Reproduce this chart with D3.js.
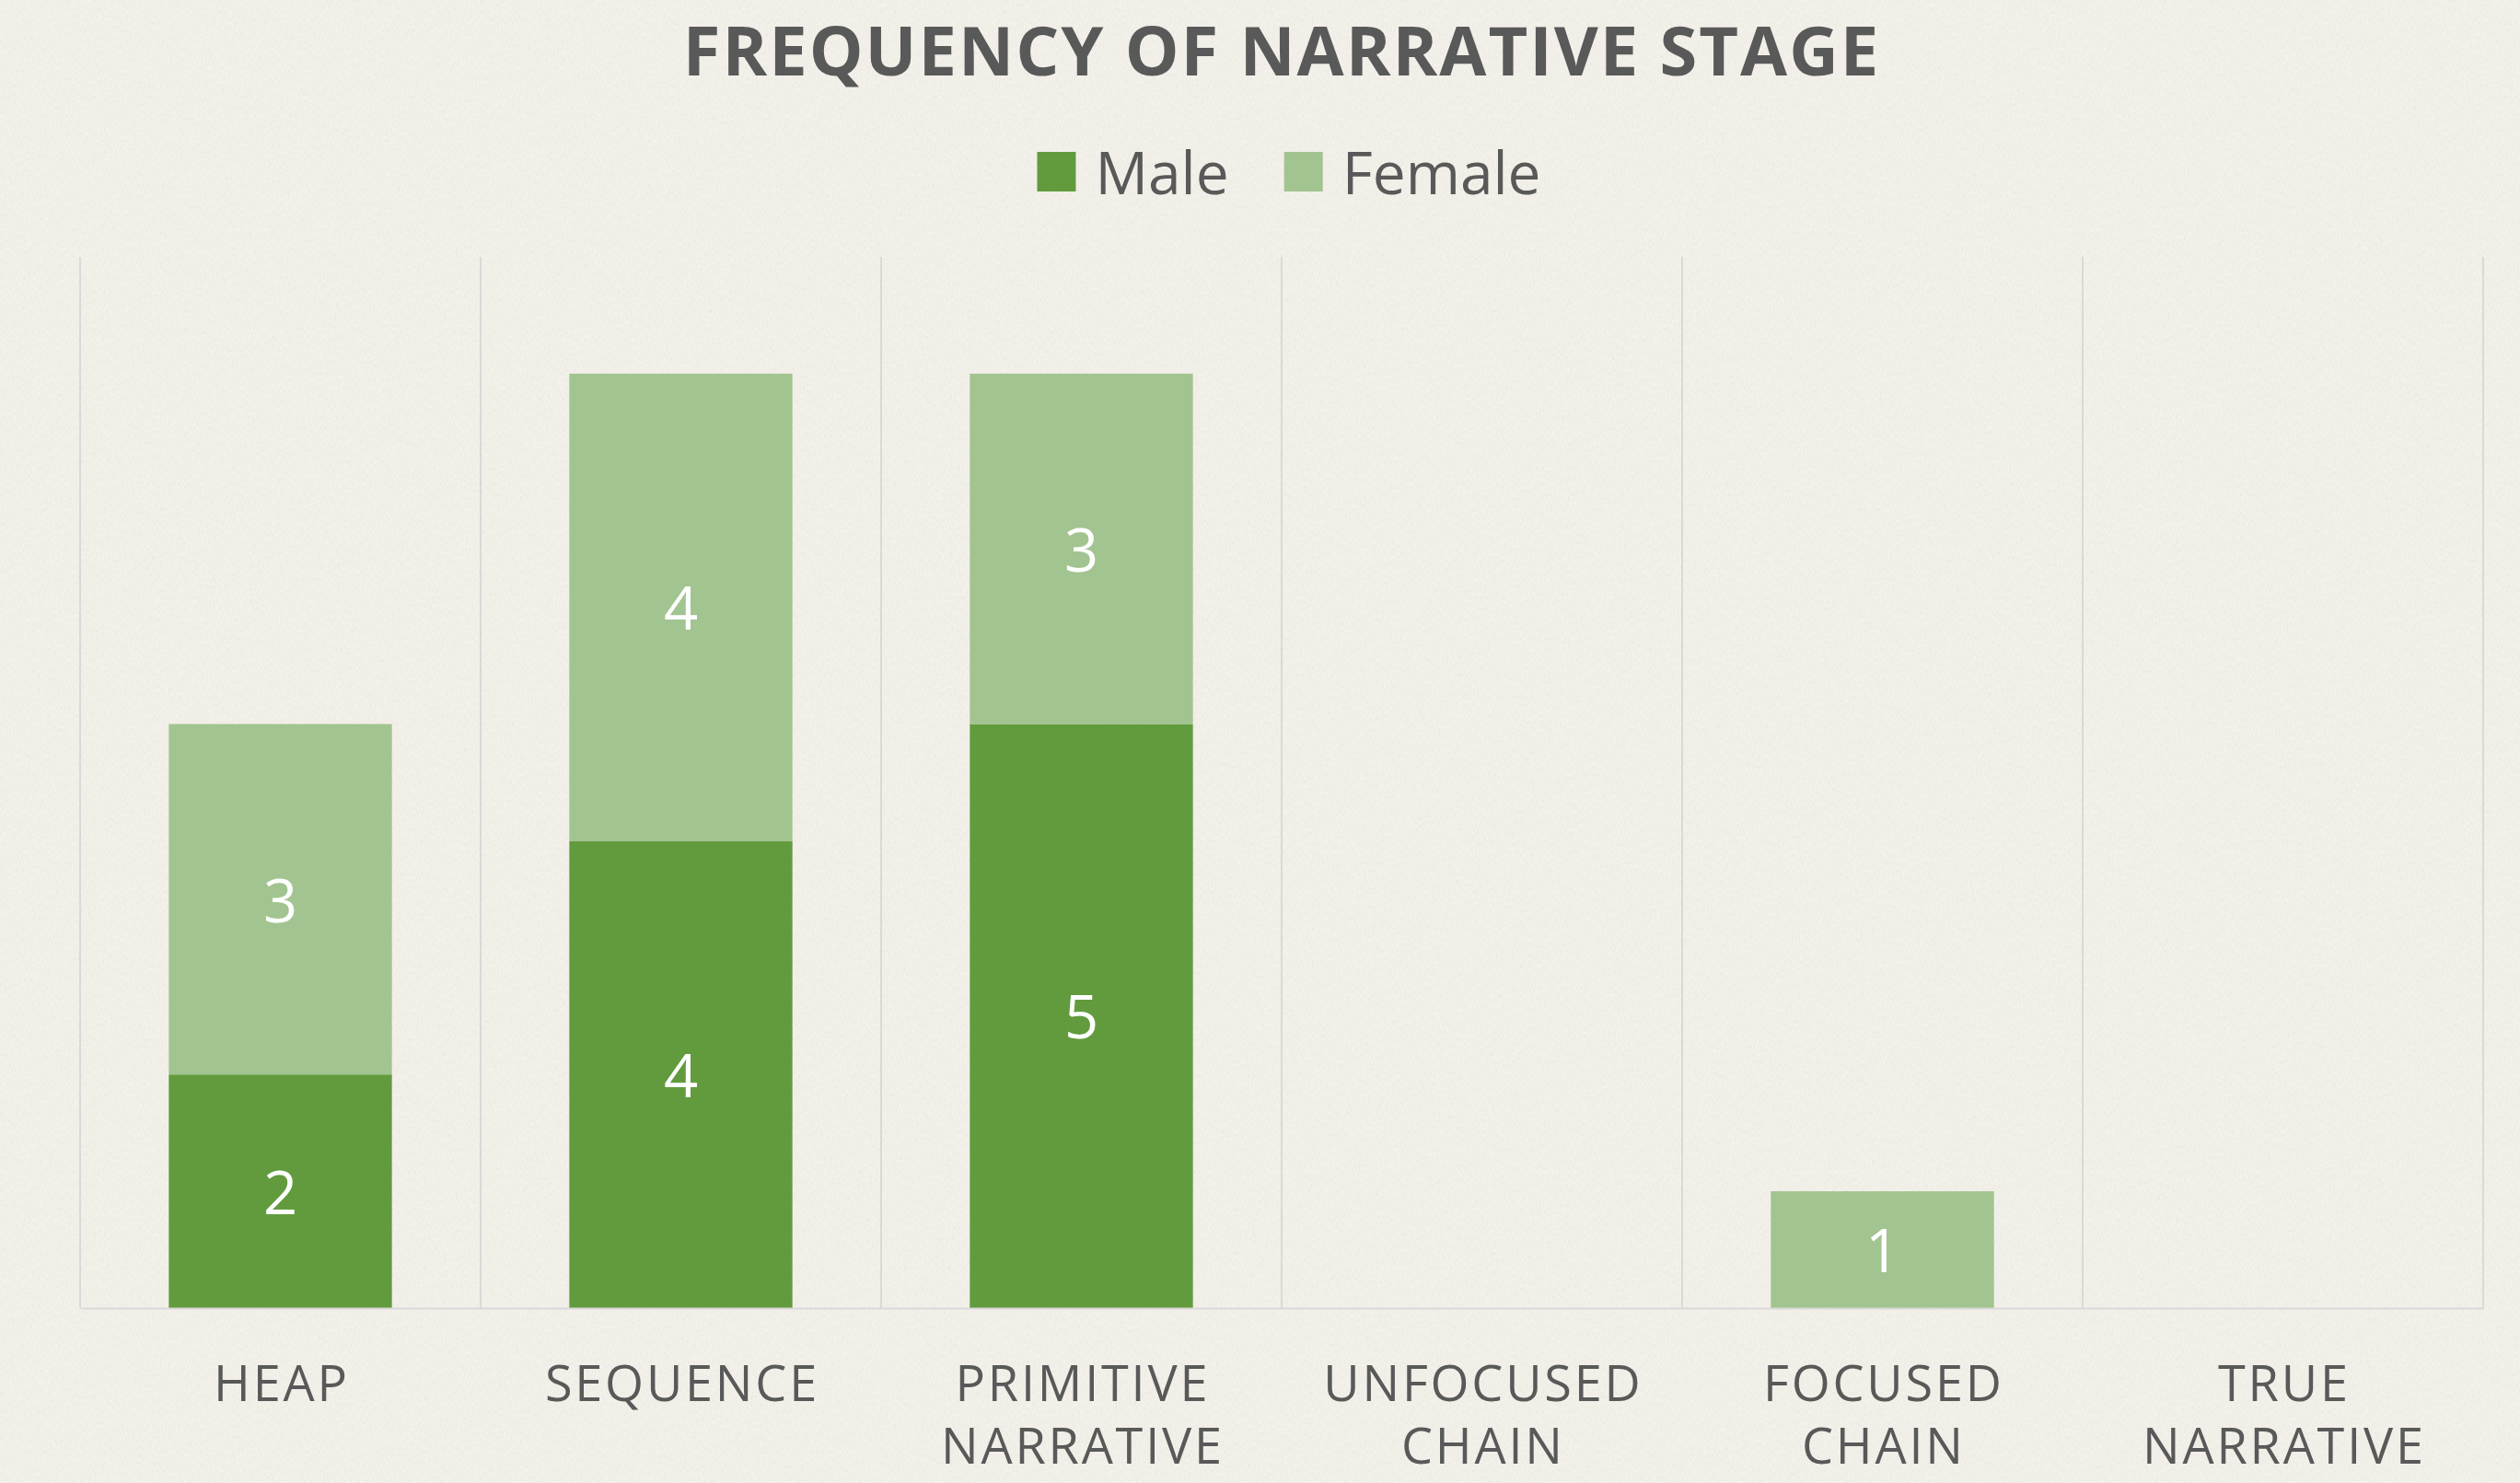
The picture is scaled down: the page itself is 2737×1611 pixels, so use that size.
<!DOCTYPE html>
<html>
<head>
<meta charset="utf-8">
<script src="https://cdn.jsdelivr.net/npm/d3@7"></script>
<style>
  html, body { margin: 0; padding: 0; background: #f3f1ea; }
  svg { display: block; }
</style>
</head>
<body>
<script>
// ---- Data ----
const categories = ["HEAP", "SEQUENCE", "PRIMITIVE NARRATIVE", "UNFOCUSED CHAIN", "FOCUSED CHAIN", "TRUE NARRATIVE"];
const seriesNames = ["Male", "Female"];
const maleValues = [2, 4, 5, 0, 0, 0];
const femaleValues = [3, 4, 3, 0, 1, 0];
const yDomainMax = 9;
const titleText = "FREQUENCY OF NARRATIVE STAGE";

// ---- Layout / style ----
const W = 2737, H = 1611;
const margin = { left: 87, right: W - 2697, top: 279, bottom: H - 1421 };
const colors = { Male: "#629b3d", Female: "#a2c490" };
const textColor = "#595959";
const gridColor = "#d9d9d9";
const fontFamily = "'Open Sans', 'Noto Sans', sans-serif";

const svg = d3.select("body").append("svg").attr("width", W).attr("height", H);

// background texture
const defs = svg.append("defs");
const filt = defs.append("filter").attr("id", "canvas").attr("x", 0).attr("y", 0).attr("width", "100%").attr("height", "100%");
filt.append("feTurbulence").attr("type", "fractalNoise").attr("baseFrequency", "0.9 0.25").attr("numOctaves", 2).attr("seed", 3).attr("result", "n");
filt.append("feColorMatrix").attr("in", "n").attr("type", "matrix")
  .attr("values", "0 0 0 0 0.45  0 0 0 0 0.43  0 0 0 0 0.38  0 0 0 -1.2 0.75");
svg.append("rect").attr("width", W).attr("height", H).attr("fill", "#f3f1ea");
svg.append("rect").attr("width", W).attr("height", H).attr("filter", "url(#canvas)").attr("opacity", 0.22);

const x = d3.scaleBand().domain(categories).range([margin.left, W - margin.right]).paddingInner(0).paddingOuter(0);
const y = d3.scaleLinear().domain([0, yDomainMax]).range([H - margin.bottom, margin.top]);

// vertical gridlines at category boundaries
const edges = categories.map(c => x(c)).concat([x(categories[categories.length - 1]) + x.bandwidth()]);
svg.append("g").selectAll("line").data(edges).join("line")
  .attr("x1", d => d).attr("x2", d => d)
  .attr("y1", y(yDomainMax)).attr("y2", y(0))
  .attr("stroke", gridColor).attr("stroke-width", 2);

// stacked data
const rows = categories.map((c, i) => ({ cat: c, Male: maleValues[i], Female: femaleValues[i] }));
const stack = d3.stack().keys(seriesNames)(rows);
const barW = x.bandwidth() * 0.557;

const layers = svg.append("g").selectAll("g").data(stack).join("g").attr("fill", d => colors[d.key]);
layers.selectAll("rect").data(d => d.filter(s => s[1] - s[0] > 0)).join("rect")
  .attr("x", d => x(d.data.cat) + (x.bandwidth() - barW) / 2)
  .attr("width", barW)
  .attr("y", d => y(d[1]))
  .attr("height", d => y(d[0]) - y(d[1]));

// data labels
const labelG = svg.append("g");
stack.forEach(layer => {
  layer.forEach(s => {
    const v = s[1] - s[0];
    if (v > 0) {
      labelG.append("text")
        .attr("x", x(s.data.cat) + x.bandwidth() / 2)
        .attr("y", (y(s[0]) + y(s[1])) / 2)
        .attr("dy", "0.38em")
        .attr("text-anchor", "middle")
        .attr("font-family", fontFamily)
        .attr("font-size", 65)
        .attr("fill", "#ffffff")
        .text(v);
    }
  });
});

// bottom axis
const xAxis = d3.axisBottom(x).tickSize(0).tickPadding(0).tickFormat("");
const axG = svg.append("g").attr("transform", `translate(0,${y(0)})`).call(xAxis);
axG.select(".domain").attr("stroke", gridColor).attr("stroke-width", 2);
axG.selectAll(".tick").each(function(d) {
  const words = d.split(" ");
  const t = d3.select(this).append("text")
    .attr("text-anchor", "middle")
    .attr("font-family", fontFamily)
    .attr("font-size", 54)
    .attr("letter-spacing", 2.8)
    .attr("fill", textColor);
  words.forEach((w, i) => {
    t.append("tspan").attr("x", 1.4).attr("y", 101 + i * 68).text(w);
  });
});

// title
svg.append("text")
  .attr("x", (margin.left + W - margin.right) / 2)
  .attr("y", 82)
  .attr("text-anchor", "middle")
  .attr("font-family", fontFamily)
  .attr("font-weight", 700)
  .attr("font-size", 74)
  .attr("letter-spacing", 2)
  .attr("fill", textColor)
  .text(titleText);

// legend
const legend = svg.append("g");
let cursor = 0;
seriesNames.forEach((name, i) => {
  const g = legend.append("g").attr("transform", `translate(${cursor},0)`);
  g.append("rect").attr("x", 0).attr("y", 165).attr("width", 42).attr("height", 43).attr("fill", colors[name]);
  const t = g.append("text").attr("x", 63).attr("y", 211)
    .attr("font-family", fontFamily).attr("font-size", 64).attr("fill", textColor).text(name);
  cursor += 63 + t.node().getComputedTextLength() + 60;
});
const legendWidth = cursor - 60;
legend.attr("transform", `translate(${1400 - legendWidth / 2},0)`);
</script>
</body>
</html>
